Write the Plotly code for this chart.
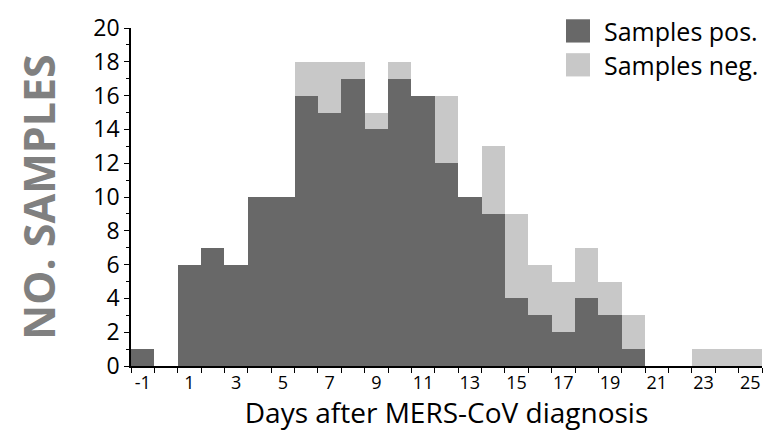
import plotly.graph_objects as go

days = list(range(-1, 26))
samples_pos = [1, 0, 6, 7, 6, 10, 10, 16, 15, 17, 14, 17, 16, 12, 10, 9, 4, 3, 2, 4, 3, 1, 0, 0, 0, 0, 0]
samples_neg = [0, 0, 0, 0, 0, 0, 0, 2, 3, 1, 1, 1, 0, 4, 0, 4, 5, 3, 3, 3, 2, 2, 0, 0, 1, 1, 1]
x_tick_labels = [str(d) for d in days if d % 2 != 0]
x_tick_vals = [d for d in days if d % 2 != 0]
y_tick_vals = list(range(0, 21, 2))
series_names = ["Samples pos.", "Samples neg."]

POS_COLOR = "#686868"
NEG_COLOR = "#c8c8c8"
FONT = "Open Sans"

fig = go.Figure()
fig.add_trace(go.Bar(x=days, y=samples_pos, name=series_names[0], showlegend=False,
                     marker=dict(color=POS_COLOR, line=dict(width=0))))
fig.add_trace(go.Bar(x=days, y=samples_neg, name=series_names[1], showlegend=False,
                     marker=dict(color=NEG_COLOR, line=dict(width=0))))

# legend drawn with large square swatches (paper coordinates)
legend_rows = [(0.9914, POS_COLOR), (0.8911, NEG_COLOR)]
half_h = 0.0344
for (yc, col), name in zip(legend_rows, series_names):
    fig.add_shape(type="rect", xref="paper", yref="paper",
                  x0=0.6894, x1=0.7274, y0=yc - half_h, y1=yc + half_h,
                  fillcolor=col, line=dict(width=0))
    fig.add_annotation(xref="paper", yref="paper", x=0.7464, y=yc,
                       xanchor="left", yanchor="middle", showarrow=False,
                       text=name, font=dict(size=25, family=FONT, color="black"))

fig.update_layout(
    barmode="stack",
    bargap=0,
    width=773, height=431,
    margin=dict(l=131, r=11, t=17, b=65),
    paper_bgcolor="white", plot_bgcolor="white",
    font=dict(family=FONT, color="black"),
    showlegend=False,
    xaxis=dict(
        range=[-1.5, 25.5],
        tickmode="array", tickvals=x_tick_vals, ticktext=x_tick_labels,
        ticks="", showgrid=False, zeroline=False,
        showline=True, linecolor="black", linewidth=1.5,
        tickfont=dict(size=18, family=FONT),
        minor=dict(tick0=-1.5, dtick=1, ticks="outside", ticklen=5,
                   tickcolor="black", tickwidth=1.2, showgrid=False),
        title=dict(text="Days after MERS-CoV diagnosis",
                   font=dict(size=28, family=FONT), standoff=1),
    ),
    yaxis=dict(
        range=[0, 20],
        tickmode="array", tickvals=y_tick_vals,
        ticks="outside", ticklen=5, tickcolor="black", tickwidth=1.2,
        showgrid=False, zeroline=False,
        showline=True, linecolor="black", linewidth=1.5,
        tickfont=dict(size=23, family=FONT),
        minor=dict(dtick=1, ticks="outside", ticklen=3,
                   tickcolor="black", tickwidth=1, showgrid=False),
        title=dict(text="<b>NO. SAMPLES</b>",
                   font=dict(size=43, family=FONT, color="#808080"),
                   standoff=24),
    ),
)

fig.write_html("out.html")
